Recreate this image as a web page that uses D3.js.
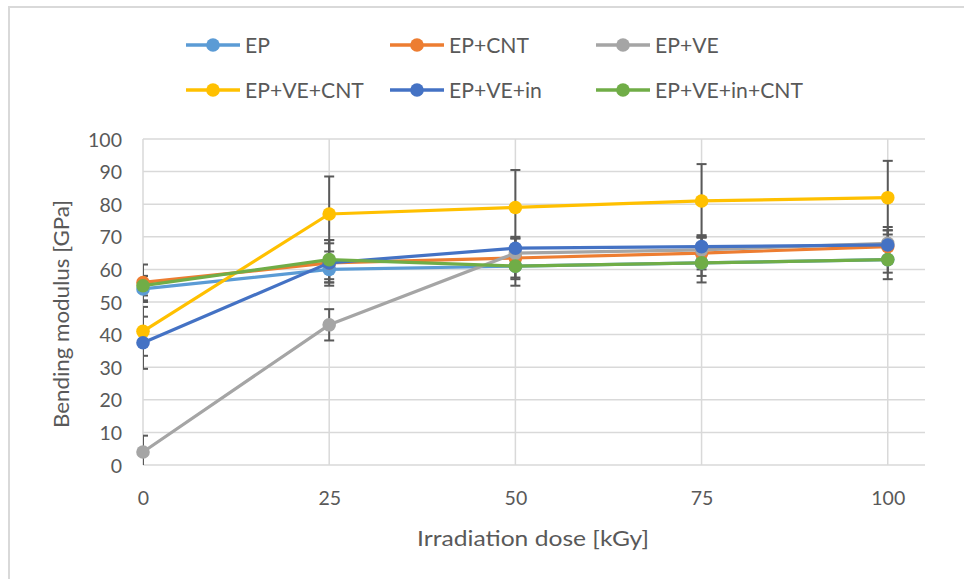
<!DOCTYPE html>
<html><head><meta charset="utf-8">
<script src="https://cdn.jsdelivr.net/npm/d3@7"></script>
<style>body{margin:0;background:#fff}svg{display:block}text{font-family:Lato,"Open Sans",sans-serif;fill:#595959}</style>
</head><body>
<svg id="c" width="964" height="579"></svg>
<script>
const doses = [0, 25, 50, 75, 100];
const seriesNames = ["EP", "EP+CNT", "EP+VE", "EP+VE+CNT", "EP+VE+in", "EP+VE+in+CNT"];
const colors = ["#5B9BD5", "#ED7D31", "#A5A5A5", "#FFC000", "#4472C4", "#70AD47"];
const valEP = [54, 60, 61, 62, 63];
const valEPCNT = [56, 62, 63.5, 65, 67];
const valEPVE = [4, 43, 65, 66, 68];
const valEPVECNT = [41, 77, 79, 81, 82];
const valEPVEin = [37.5, 62, 66.5, 67, 67.5];
const valEPVEinCNT = [55, 63, 61, 62, 63];
const errEP = [4, 4, 6, 6, 6];
const errEPCNT = [5.5, 6, 6, 5, 5];
const errEPVE = [5, 4.8, 5, 4, 4];
const errEPVECNT = [7.5, 11.5, 11.5, 11.3, 11.3];
const errEPVEin = [8, 7, 3, 3.5, 5.5];
const errEPVEinCNT = [3, 6, 4, 4, 4];
const yTicks = [0, 10, 20, 30, 40, 50, 60, 70, 80, 90, 100];
const xTicks = [0, 25, 50, 75, 100];

const values = [valEP, valEPCNT, valEPVE, valEPVECNT, valEPVEin, valEPVEinCNT];
const errs = [errEP, errEPCNT, errEPVE, errEPVECNT, errEPVEin, errEPVEinCNT];

const svg = d3.select("#c");
svg.append("rect").attr("x", 9).attr("y", 7).attr("width", 1000).attr("height", 1000)
  .attr("fill", "none").attr("stroke", "#D9D9D9").attr("stroke-width", 2);

const x = d3.scaleLinear().domain([0, 105]).range([143, 925]);
const y = d3.scaleLinear().domain([0, 100]).range([465, 139]);

function stretch(sel, f) {
  sel.each(function () {
    const w = this.getComputedTextLength();
    d3.select(this).attr("textLength", w * f).attr("lengthAdjust", "spacingAndGlyphs");
  });
}

svg.append("g").selectAll("line").data(yTicks).join("line")
  .attr("x1", x(0)).attr("x2", x(105)).attr("y1", d => y(d)).attr("y2", d => y(d))
  .attr("stroke", "#D9D9D9").attr("stroke-width", 1.5);
svg.append("g").selectAll("line").data(xTicks).join("line")
  .attr("x1", d => x(d)).attr("x2", d => x(d)).attr("y1", y(0)).attr("y2", y(100))
  .attr("stroke", "#D9D9D9").attr("stroke-width", 1.5);

const yAx = svg.append("g").attr("transform", `translate(${x(0)},0)`)
  .call(d3.axisLeft(y).tickValues(yTicks).tickSize(0).tickPadding(21));
yAx.select(".domain").remove();
yAx.attr("font-family", null).attr("font-size", null);
yAx.selectAll("text").attr("font-size", 19.5).style("fill", "#595959").attr("dy", "0.36em");
const xAx = svg.append("g").attr("transform", `translate(0,${y(0)})`)
  .call(d3.axisBottom(x).tickValues(xTicks).tickSize(0).tickPadding(26));
xAx.select(".domain").remove();
xAx.attr("font-family", null).attr("font-size", null);
xAx.selectAll("text").attr("font-size", 19.5).style("fill", "#595959");

const xt = svg.append("text").attr("x", 533).attr("y", 546).attr("text-anchor", "middle")
  .attr("font-size", 22).text("Irradiation dose [kGy]");
stretch(xt, 232 / xt.node().getComputedTextLength());
const yt = svg.append("text").attr("transform", "translate(69,314) rotate(-90)").attr("text-anchor", "middle")
  .attr("font-size", 22).text("Bending modulus [GPa]");
stretch(yt, 228 / yt.node().getComputedTextLength());

svg.append("clipPath").attr("id", "pa").append("rect")
  .attr("x", x(0)).attr("y", y(100) - 20).attr("width", x(105) - x(0)).attr("height", y(0) - y(100) + 20);

const eg = svg.append("g").attr("clip-path", "url(#pa)");
values.forEach((vals, si) => {
  vals.forEach((v, i) => {
    const e = errs[si][i], cx = x(doses[i]);
    const g = eg.append("g").attr("stroke", "#595959").attr("stroke-width", 2);
    g.append("line").attr("x1", cx).attr("x2", cx).attr("y1", y(v - e)).attr("y2", y(v + e));
    g.append("line").attr("x1", cx - 5).attr("x2", cx + 5).attr("y1", y(v + e)).attr("y2", y(v + e));
    g.append("line").attr("x1", cx - 5).attr("x2", cx + 5).attr("y1", y(v - e)).attr("y2", y(v - e));
  });
});

const line = d3.line().x((d, i) => x(doses[i])).y(d => y(d));
values.forEach((vals, si) => {
  const g = svg.append("g");
  g.append("path").attr("d", line(vals)).attr("fill", "none")
    .attr("stroke", colors[si]).attr("stroke-width", 3.2).attr("stroke-linejoin", "round");
  g.selectAll("circle").data(vals).join("circle")
    .attr("cx", (d, i) => x(doses[i])).attr("cy", d => y(d)).attr("r", 6.8)
    .attr("fill", colors[si]);
});

const legX = [186, 390, 596], legY = [45, 90];
const legTexts = [];
seriesNames.forEach((n, si) => {
  const lx = legX[si % 3], ly = legY[Math.floor(si / 3)];
  const g = svg.append("g");
  g.append("line").attr("x1", lx).attr("x2", lx + 54).attr("y1", ly).attr("y2", ly)
    .attr("stroke", colors[si]).attr("stroke-width", 3.5);
  g.append("circle").attr("cx", lx + 27).attr("cy", ly).attr("r", 6.8).attr("fill", colors[si]);
  legTexts.push(g.append("text").attr("x", lx + 59).attr("y", ly).attr("dy", "0.36em")
    .attr("font-size", 21).text(n).node());
});
const lf = 148 / legTexts[5].getComputedTextLength();
stretch(d3.selectAll(legTexts), lf);
</script>
</body></html>
